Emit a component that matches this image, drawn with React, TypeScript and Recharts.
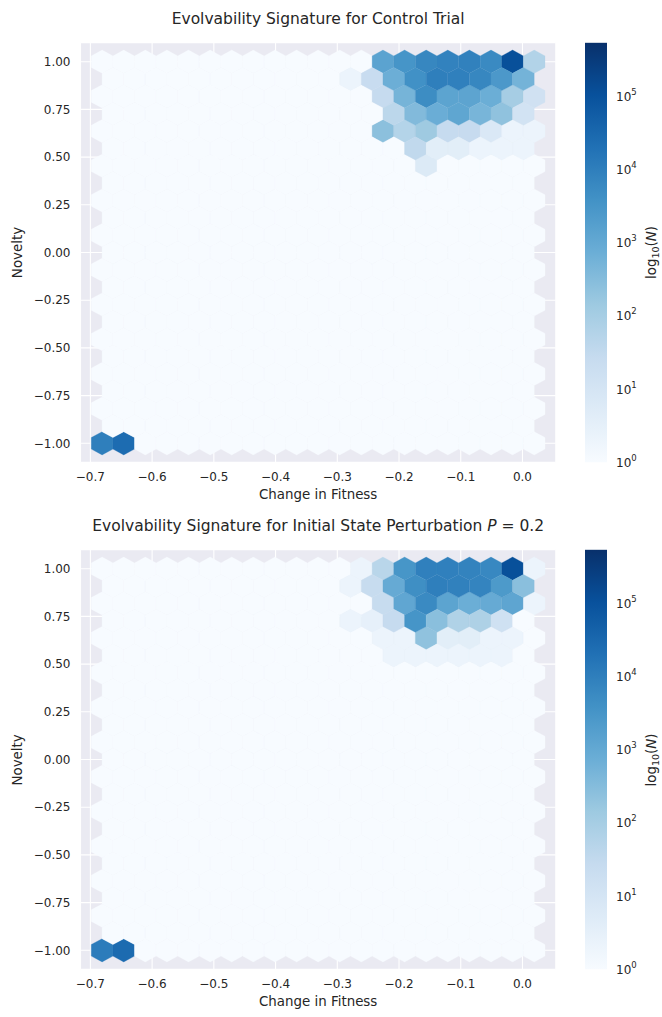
import React from 'react';
import { ScatterChart, Scatter, BarChart, Bar, XAxis, YAxis, CartesianGrid } from 'recharts';

const xTicks = [-0.7, -0.6, -0.5, -0.4, -0.3, -0.2, -0.1, 0.0];
const yTicks = [-1, -0.75, -0.5, -0.25, 0, 0.25, 0.5, 0.75, 1];
const cbarExponents = [0, 1, 2, 3, 4, 5];

// hexbin grid (gridsize 20) over the data extent
const HEX_X0 = -0.681;
const HEX_DX = 0.035;
const HEX_Y0 = -1;
const HEX_DY = 2 / 11;
const NX = 20;
const NY = 11;
const CLUSTER_COL0 = 11; // first column of the cluster rows below
const LOG_MAX = 5.73; // top of the colour scale, log10(N)

// counts of the upper-right cluster, rows top to bottom (y = 1.000, 0.909, 0.818 ...)
const controlCluster: number[][] = [
  [0, 0, 1400, 3200, 6600, 8500, 9000, 5700, 110000, 60],
  [1, 23, 720, 4000, 10000, 9500, 6600, 2600, 540],
  [0, 0, 26, 510, 4900, 1350, 1300, 740, 100, 13],
  [0, 0, 40, 350, 760, 1200, 480, 220, 11],
  [0, 0, 255, 55, 135, 26, 25, 6, 1, 1],
  [0, 0, 0, 32, 3, 3, 1, 1, 1],
  [0, 0, 0, 0, 5, 0, 0, 0, 0, 0],
];
// counts at y = -1.000, first columns
const controlCorner = [10000, 26000];

const perturbCluster: number[][] = [
  [0, 1, 45, 3100, 9500, 9500, 8100, 6300, 110000, 1],
  [1, 24, 900, 4500, 10000, 8700, 7500, 2400, 270],
  [0, 0, 24, 1140, 5600, 1350, 740, 900, 1250, 1],
  [1, 2, 26, 3200, 270, 67, 73, 14, 0],
  [0, 0, 1, 1, 220, 3, 3, 1, 1, 0],
  [0, 0, 1, 1, 1, 1, 1, 1, 0],
];
const perturbCorner = [11500, 27000];

const X_DOMAIN = [-0.716, 0.054];
const Y_DOMAIN = [-1.1, 1.1];

const CHART_W = 580;
const CHART_H = 520;
const MARGIN = { top: 42.6, right: 24.2, bottom: 12.6, left: 0 };
const Y_AXIS_W = 80.5;
const X_AXIS_H = 45;
const PLOT_W = CHART_W - MARGIN.right - Y_AXIS_W;
const PLOT_H = CHART_H - MARGIN.top - MARGIN.bottom - X_AXIS_H;
const PX_X = PLOT_W / (X_DOMAIN[1] - X_DOMAIN[0]);
const PX_Y = PLOT_H / (Y_DOMAIN[1] - Y_DOMAIN[0]);
const PANEL_GAP = 507.4;

const FONT = 'DejaVu Sans';
const INK = '#262626';

const BLUES = ['#f7fbff', '#deebf7', '#c6dbef', '#9ecae1', '#6baed6', '#4292c6', '#2171b5', '#08519c', '#08306b'];

const hexToRgb = (h: string) => [1, 3, 5].map((k) => parseInt(h.slice(k, k + 2), 16));

const blues = (t: number) => {
  const c = Math.max(0, Math.min(1, t)) * 8;
  const i = Math.min(7, Math.floor(c));
  const f = c - i;
  const a = hexToRgb(BLUES[i]);
  const b = hexToRgb(BLUES[i + 1]);
  const m = a.map((v, k) => Math.round(v + (b[k] - v) * f));
  return `rgb(${m[0]},${m[1]},${m[2]})`;
};

const buildHexes = (cluster: number[][], corner: number[]) => {
  const counts: Record<string, number> = {};
  cluster.forEach((row, k) => {
    const lat = k % 2 === 0 ? 'A' : 'B';
    const j = lat === 'A' ? NY - k / 2 : NY - 1 - (k - 1) / 2;
    row.forEach((n, idx) => {
      counts[`${lat}-${CLUSTER_COL0 + idx}-${j}`] = n;
    });
  });
  corner.forEach((n, idx) => {
    counts[`A-${idx}-0`] = n;
  });
  const cells: { x: number; y: number; n: number }[] = [];
  for (let j = 0; j <= NY; j++) {
    for (let i = 0; i <= NX; i++) {
      cells.push({ x: HEX_X0 + i * HEX_DX, y: HEX_Y0 + j * HEX_DY, n: counts[`A-${i}-${j}`] || 0 });
    }
  }
  for (let j = 0; j < NY; j++) {
    for (let i = 0; i < NX; i++) {
      cells.push({ x: HEX_X0 + (i + 0.5) * HEX_DX, y: HEX_Y0 + (j + 0.5) * HEX_DY, n: counts[`B-${i}-${j}`] || 0 });
    }
  }
  return cells;
};

const Hex = (props: any) => {
  const { cx, cy, payload } = props;
  if (cx == null || cy == null) return null;
  const w = (HEX_DX * PX_X) / 2;
  const h1 = (HEX_DY / 3) * PX_Y;
  const h2 = (HEX_DY / 6) * PX_Y;
  const pts = [
    [cx + w, cy - h2],
    [cx + w, cy + h2],
    [cx, cy + h1],
    [cx - w, cy + h2],
    [cx - w, cy - h2],
    [cx, cy - h1],
  ]
    .map((p) => p.join(','))
    .join(' ');
  const fill = blues(Math.log10(payload.n + 1) / LOG_MAX);
  return <polygon points={pts} fill={fill} stroke={fill} strokeWidth={0.3} />;
};

const fmtX = (v: number) => (v < -1e-9 ? '\u2212' : '') + Math.abs(v).toFixed(1);
const fmtY = (v: number) => (v < -1e-9 ? '\u2212' : '') + Math.abs(v).toFixed(2);

const tickStyle = { fill: INK, fontSize: 12, fontFamily: FONT };

const HexPanel = ({ cluster, corner, top }: { cluster: number[][]; corner: number[]; top: number }) => {
  const data = buildHexes(cluster, corner);
  return (
    <div style={{ position: 'absolute', left: 0, top }}>
      <ScatterChart width={CHART_W} height={CHART_H} margin={MARGIN}>
        <CartesianGrid fill="#EAEAF2" fillOpacity={1} stroke="#ffffff" strokeWidth={1.1} />
        <XAxis
          type="number"
          dataKey="x"
          domain={X_DOMAIN}
          ticks={xTicks}
          allowDataOverflow
          interval={0}
          height={X_AXIS_H}
          tickLine={false}
          axisLine={false}
          tickMargin={4}
          tick={tickStyle}
          tickFormatter={fmtX}
        />
        <YAxis
          type="number"
          dataKey="y"
          domain={Y_DOMAIN}
          ticks={yTicks}
          allowDataOverflow
          interval={0}
          width={Y_AXIS_W}
          tickLine={false}
          axisLine={false}
          tickMargin={4}
          tick={tickStyle}
          tickFormatter={fmtY}
        />
        <Scatter data={data} shape={Hex} isAnimationActive={false} />
      </ScatterChart>
    </div>
  );
};

const CbarTick = (props: any) => {
  const { x, y, payload } = props;
  return (
    <text x={x + 7} y={y + 4.5} fill={INK} fontSize={12} fontFamily={FONT}>
      10
      <tspan dy={-6} fontSize={8.5}>
        {payload.value}
      </tspan>
    </text>
  );
};

// colour bar: one bar spanning the whole log range, painted with the Blues ramp
const cbarData = [{ name: 'N', top: LOG_MAX }];

const makeCbarShape = (id: string) => (props: any) => {
  const { x, y, width, height } = props;
  return (
    <g>
      <defs>
        <linearGradient id={id} x1="0" y1="1" x2="0" y2="0">
          {BLUES.map((c, k) => (
            <stop key={k} offset={k / 8} stopColor={c} />
          ))}
        </linearGradient>
      </defs>
      <rect x={x} y={y} width={width} height={height} fill={`url(#${id})`} />
    </g>
  );
};

const Colorbar = ({ top, id }: { top: number; id: string }) => (
  <div style={{ position: 'absolute', left: 560, top }}>
    <BarChart
      width={102}
      height={CHART_H}
      data={cbarData}
      barCategoryGap={0}
      margin={{ top: MARGIN.top, right: 5, bottom: CHART_H - MARGIN.top - PLOT_H, left: 25 }}
    >
      <XAxis dataKey="name" hide />
      <YAxis
        type="number"
        orientation="right"
        domain={[0, LOG_MAX]}
        ticks={cbarExponents}
        allowDataOverflow
        interval={0}
        width={50}
        tickLine={false}
        axisLine={false}
        tickSize={0}
        tick={<CbarTick />}
      />
      <Bar dataKey="top" shape={makeCbarShape(id)} isAnimationActive={false} />
    </BarChart>
  </div>
);

const cx = Y_AXIS_W + PLOT_W / 2;
const cyPlot = MARGIN.top + PLOT_H / 2;

const Labels = ({ top, title }: { top: number; title: React.ReactNode }) => (
  <g transform={`translate(0, ${top})`} fontFamily={FONT} fill={INK}>
    <text x={cx} y={24} textAnchor="middle" fontSize={15.5}>
      {title}
    </text>
    <text x={cx} y={499} textAnchor="middle" fontSize={13.4}>
      Change in Fitness
    </text>
    <text transform={`translate(22, ${cyPlot}) rotate(-90)`} textAnchor="middle" fontSize={13.4}>
      Novelty
    </text>
    <text transform={`translate(656, ${cyPlot}) rotate(-90)`} textAnchor="middle" fontSize={13.4}>
      log
      <tspan dy={3} fontSize={9.5}>
        10
      </tspan>
      <tspan dy={-3}>(</tspan>
      <tspan fontStyle="italic">N</tspan>)
    </text>
  </g>
);

export default function App() {
  return (
    <div style={{ position: 'absolute', left: 0, top: 0, width: 662, height: 1017, background: '#fff' }}>
      <HexPanel cluster={controlCluster} corner={controlCorner} top={0} />
      <Colorbar top={0} id="bluesA" />
      <HexPanel cluster={perturbCluster} corner={perturbCorner} top={PANEL_GAP} />
      <Colorbar top={PANEL_GAP} id="bluesB" />
      <svg width={662} height={1017} style={{ position: 'absolute', left: 0, top: 0, pointerEvents: 'none' }}>
        <Labels top={0} title="Evolvability Signature for Control Trial" />
        <Labels
          top={PANEL_GAP}
          title={
            <>
              Evolvability Signature for Initial State Perturbation <tspan fontStyle="italic">P</tspan> = 0.2
            </>
          }
        />
      </svg>
    </div>
  );
}
